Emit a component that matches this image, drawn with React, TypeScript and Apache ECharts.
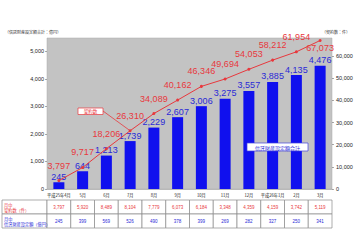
import React, { useEffect, useRef } from "react";
import * as echarts from "echarts";

const categories = ["平成25年4月", "5月", "6月", "7月", "8月", "9月", "10月", "11月", "12月", "平成26年1月", "2月", "3月"];
const cumulativeContracts = [3797, 9717, 18206, 26310, 34089, 40162, 46346, 49694, 54053, 58212, 61954, 67073];
const cumulativeTrust = [245, 644, 1213, 1739, 2229, 2607, 3006, 3275, 3557, 3885, 4135, 4476];
const monthlyContracts = [3797, 5920, 8489, 8104, 7779, 6073, 6184, 3348, 4359, 4159, 3742, 5119];
const monthlyTrust = [245, 399, 569, 526, 490, 378, 399, 269, 282, 327, 250, 341];

const RED = "#e8383d";
const BLUE = "#1010ee";
const BLUE_TXT = "#2a2ad6";
const FONT = "'Liberation Sans', Arial, 'Noto Sans CJK JP', sans-serif";
const JFONT = "'Noto Sans CJK JP', 'Liberation Sans', sans-serif";
const fmt = (v: number) => Number(v).toLocaleString("en-US");

export default function App() {
  const ref = useRef<HTMLDivElement>(null);
  useEffect(() => {
    if (!ref.current) return;
    const chart = echarts.init(ref.current, null, { renderer: "svg" });
    const option: any = {
      animation: false,
      backgroundColor: "#fff",
      textStyle: { fontFamily: FONT },
      grid: {
        left: 47, right: 28, top: 38, bottom: 51,
        containLabel: false, outerBoundsMode: "none",
        show: true, backgroundColor: "#c3c3c3", borderColor: "#aaa", borderWidth: 0.5,
      },
      xAxis: {
        type: "category",
        data: categories,
        axisLine: { lineStyle: { color: "#888", width: 0.5 } },
        axisTick: { show: false },
        axisLabel: { fontSize: 4.2, color: "#222", margin: 4, fontFamily: JFONT, interval: 0, hideOverlap: false },
      },
      yAxis: [
        {
          type: "value", min: 0, max: 5480, interval: 1000,
          splitLine: { show: false },
          axisLine: { show: false },
          axisTick: { show: true, length: 2, lineStyle: { color: "#555", width: 0.5 } },
          axisLabel: { fontSize: 5.5, color: "#222", margin: 3, formatter: fmt, showMaxLabel: false },
        },
        {
          type: "value", min: 0, max: 68200, interval: 10000,
          splitLine: { show: false },
          axisLine: { show: false },
          axisTick: { show: true, length: 2, lineStyle: { color: "#555", width: 0.5 } },
          axisLabel: { fontSize: 5.5, color: "#222", margin: 4, formatter: fmt, showMaxLabel: false },
        },
      ],
      series: [
        {
          type: "bar",
          yAxisIndex: 0,
          data: cumulativeTrust,
          barWidth: 11,
          itemStyle: { color: BLUE },
          label: {
            show: true, position: "top", distance: 1, color: BLUE_TXT,
            fontSize: 9, formatter: (p: any) => fmt(p.value),
          },
          labelLayout: { hideOverlap: false, moveOverlap: null },
          z: 2,
        },
        {
          type: "line",
          yAxisIndex: 1,
          data: cumulativeContracts.map((v, i) =>
            i === cumulativeContracts.length - 1
              ? { value: v, label: { position: "bottom", distance: 1, offset: [1, 0] } }
              : { value: v }
          ),
          symbol: "circle",
          symbolSize: 3,
          lineStyle: { color: RED, width: 1 },
          itemStyle: { color: RED },
          label: {
            show: true, position: "top", distance: 9, offset: [1, 0], color: RED,
            fontSize: 9, formatter: (p: any) => fmt(p.value),
          },
          labelLayout: { hideOverlap: false, moveOverlap: null },
          z: 3,
        },
      ],
      graphic: [
        { type: "text", left: 5, top: 30, style: { text: "（信託財産設定額合計：億円）", fontSize: 4, fontFamily: JFONT, fill: "#333" } },
        { type: "text", right: 10, top: 30, style: { text: "（契約数：件）", fontSize: 4, fontFamily: JFONT, fill: "#333" } },
      ],
    };
    chart.setOption(option);

    const cx = (i: number) => chart.convertToPixel({ xAxisIndex: 0 }, i) as number;
    const step = cx(1) - cx(0);
    const left0 = cx(0) - step / 2;
    const rowTop = 200;
    const rowH = 14;
    const g: any[] = [];
    const stroke = { stroke: "#8a8a8a", lineWidth: 0.7 };
    const headers = [
      { l1: "月中", l2: "契約数（件）", color: RED },
      { l1: "月中", l2: "信託財産設定額（億円）", color: BLUE_TXT },
    ];
    headers.forEach((h, r) => {
      const y = rowTop + r * rowH;
      g.push({ type: "rect", shape: { x: 2, y, width: left0 - 2, height: rowH }, style: { fill: "#fff", ...stroke }, z: 10 });
      g.push({
        type: "text", z: 11,
        style: { text: h.l1 + "\n" + h.l2, x: 4, y: y + rowH / 2, fill: h.color, fontSize: 4.2, fontFamily: JFONT, lineHeight: 5, align: "left", verticalAlign: "middle", textAlign: "left", textVerticalAlign: "middle" },
      });
    });
    const rows = [
      { vals: monthlyContracts, color: RED },
      { vals: monthlyTrust, color: BLUE_TXT },
    ];
    rows.forEach((row, r) => {
      const y = rowTop + r * rowH;
      row.vals.forEach((v, i) => {
        const x = cx(i) - step / 2;
        g.push({ type: "rect", shape: { x, y, width: step, height: rowH }, style: { fill: "#fff", ...stroke }, z: 10 });
        g.push({
          type: "text", z: 11,
          style: { text: fmt(v), x: cx(i), y: y + rowH / 2, fill: row.color, fontSize: 4.5, fontFamily: FONT, align: "center", verticalAlign: "middle", textAlign: "center", textVerticalAlign: "middle" },
        });
      });
    });
    const p4 = chart.convertToPixel({ seriesIndex: 1 }, [3, cumulativeContracts[3]]) as number[];
    g.push({ type: "line", z: 12, shape: { x1: 103, y1: 111, x2: p4[0], y2: p4[1] }, style: { stroke: RED, lineWidth: 0.8 } });
    g.push({ type: "rect", z: 12, shape: { x: 78, y: 108, width: 25, height: 6.5 }, style: { fill: "#fff", stroke: RED, lineWidth: 0.7 } });
    g.push({ type: "text", z: 13, style: { text: "契約数", x: 90.5, y: 111.3, fill: RED, fontSize: 4.5, fontFamily: JFONT, align: "center", verticalAlign: "middle", textAlign: "center", textVerticalAlign: "middle" } });
    g.push({ type: "rect", z: 12, shape: { x: 247, y: 143, width: 61, height: 8 }, style: { fill: "#fff", stroke: "#4444dd", lineWidth: 0.7 } });
    g.push({ type: "text", z: 13, style: { text: "信託財産設定額合計", x: 277.5, y: 147, fill: BLUE_TXT, fontSize: 5, fontFamily: JFONT, align: "center", verticalAlign: "middle", textAlign: "center", textVerticalAlign: "middle" } });

    chart.setOption({ graphic: [...option.graphic, ...g] });
    return () => chart.dispose();
  }, []);
  return <div ref={ref} style={{ position: "fixed", left: 0, top: 0, width: 360, height: 240 }} />;
}
